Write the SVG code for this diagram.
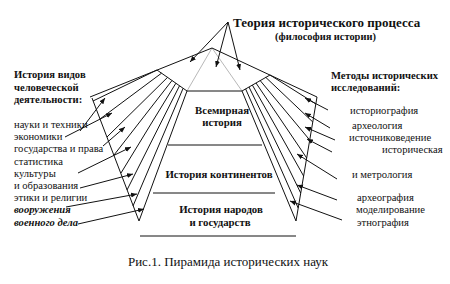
<svg xmlns="http://www.w3.org/2000/svg" width="450" height="284" viewBox="0 0 450 284" font-family="'Liberation Serif','Times New Roman',serif">
<style>
text{font-family:"Liberation Serif","Times New Roman",serif;fill:#111}
.b{font-weight:bold}
.s{font-size:10.6px}
.h{font-size:10.6px;font-weight:bold}
.p{font-size:10.8px;font-weight:bold}
.c{text-anchor:middle}
.ln{stroke:#111;stroke-width:1;fill:none}
.g{stroke:#b8b8b8;stroke-width:1;fill:none}
.ar{stroke:#111;stroke-width:1;fill:none;marker-end:url(#ah)}
</style>
<defs>
<marker id="ah" markerWidth="7" markerHeight="6" refX="6" refY="3" orient="auto" markerUnits="userSpaceOnUse"><path d="M0,0.5 L6,3 L0,5.5Z" fill="#111"/></marker>
</defs>
<rect width="450" height="284" fill="#fff"/>
<g id="pyramid-frame">
<path class="g" d="M187,91 L212,48 L242,91"/>
<path class="ln" d="M90,97 L212,48 L317,97"/>
<path class="ln" d="M157,70 L187,91 L139,221 L92,98"/>
<path class="ln" d="M270,75 L242,91 L296,221 L317,97"/>
<path class="ln" d="M157,70 L93,101 M161.5,73.2 L100,119 M167.5,77.4 L107,137 M172,80.5 L114,155 M175.9,83.2 L121,173 M179.5,85.8 L127,190 M183.1,88.3 L133,206"/>
<path class="ln" d="M270,75 L316,104 M265.8,77.4 L312.8,122 M260.2,80.6 L309.7,140 M256,83 L306.7,158 M252.4,85.1 L303.6,176 M249,87 L300.7,193 M245.6,88.9 L298.2,208"/>
<path class="ln" d="M187,91 H242 M168,145 H262 M153,193 H275 M140,236 H296"/>
</g>
<g id="title">
<text x="233" y="27" class="b" style="font-size:13px">Теория исторического процесса</text>
<text x="275" y="40" class="b" style="font-size:10.4px">(философия истории)</text>
</g>
<g id="level-world"><text x="222" y="114" class="p c">Всемирная</text><text x="222" y="126" class="p c">история</text></g>
<g id="level-continents"><text x="219" y="178" class="p c">История континентов</text></g>
<g id="level-peoples"><text x="221" y="213" class="p c">История народов</text><text x="220" y="226" class="p c">и государств</text></g>
<g id="left-header"><text x="14" y="78" class="h">История видов</text><text x="14" y="91" class="h">человеческой</text><text x="14" y="103" class="h">деятельности:</text></g>
<g id="left-items">
<text x="14" y="128" class="s">науки и техники</text>
<text x="14" y="140" class="s">экономики</text>
<text x="14" y="152" class="s">государства и права</text>
<text x="14" y="164.5" class="s">статистика</text>
<text x="14" y="177" class="s">культуры</text>
<text x="14" y="188.5" class="s">и образования</text>
<text x="14" y="200.5" class="s">этики и религии</text>
<text x="14" y="213" class="s b" font-style="italic">вооружения</text>
<text x="14" y="225.5" class="s b" font-style="italic">военного дела</text>
</g>
<g id="right-header"><text x="331" y="79" class="h">Методы исторических</text><text x="331" y="91" class="h">исследований:</text></g>
<g id="right-items">
<text x="350" y="113.5" class="s">историография</text>
<text x="352" y="129" class="s">археология</text>
<text x="349" y="140.5" class="s">источниковедение</text>
<text x="382" y="152.5" class="s">историческая</text>
<text x="352" y="177.5" class="s">и метрология</text>
<text x="357" y="200.5" class="s">археография</text>
<text x="356" y="213" class="s">моделирование</text>
<text x="357" y="226" class="s">этнография</text>
</g>
<g id="connectors">
<path class="ar" d="M228,22 L190,62"/>
<path class="ar" d="M228,22 L216,67"/>
<path class="ar" d="M228,22 L240,70"/>
<path class="ar" d="M80,131 L105,98"/>
<path class="ar" d="M65,137 L112,113"/>
<path class="ar" d="M103,146 L125,127"/>
<path class="ar" d="M78,173 L131,147"/>
<path class="ar" d="M80,188 L133,174"/>
<path class="ar" d="M66,207 L137,194"/>
<path class="ar" d="M78,224 L144,209"/>
<path class="ar" d="M328,110 L305,98"/>
<path class="ar" d="M330,128 L305,113"/>
<path class="ar" d="M335,140 L305,127"/>
<path class="ar" d="M332,152 L307,139"/>
<path class="ar" d="M337,179 L297,154"/>
<path class="ar" d="M337,200 L297,185"/>
<path class="ar" d="M342,220 L290,201"/>
</g>
<g id="caption"><text x="228" y="266" class="c" style="font-size:13px">Рис.1. Пирамида исторических наук</text></g>
</svg>
